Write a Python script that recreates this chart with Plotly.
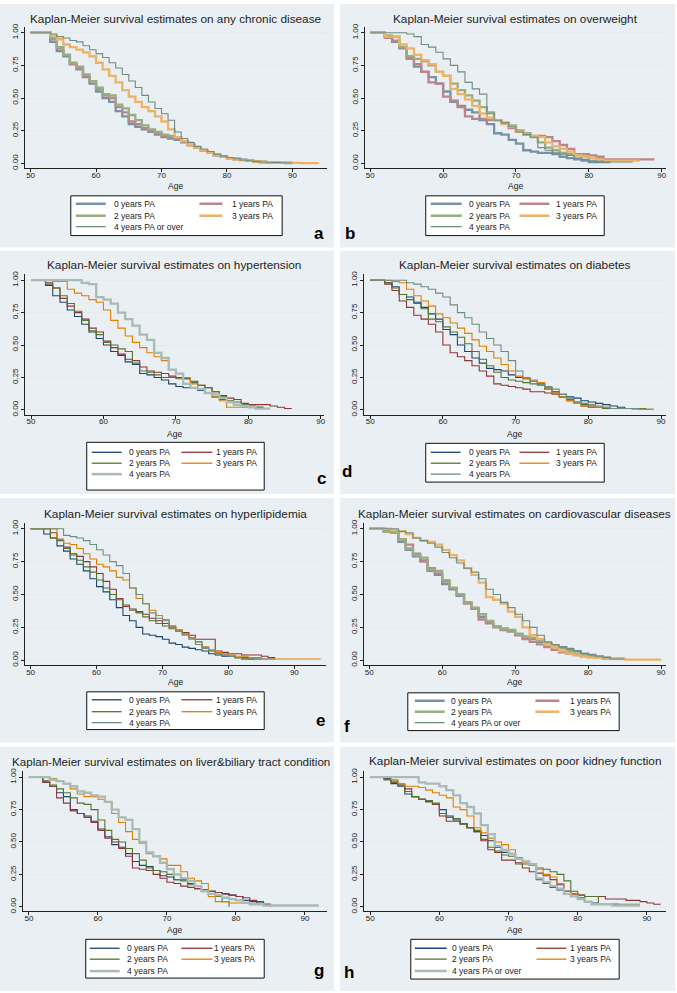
import plotly.graph_objects as go

# ---------------- data (survival at integer ages starting at 50) ----------------
START_AGE = 50

titles = [
    "Kaplan-Meier survival estimates on any chronic disease",
    "Kaplan-Meier survival estimates on overweight",
    "Kaplan-Meier survival estimates on hypertension",
    "Kaplan-Meier survival estimates on diabetes",
    "Kaplan-Meier survival estimates on hyperlipidemia",
    "Kaplan-Meier survival estimates on cardiovascular diseases",
    "Kaplan-Meier survival estimates on liver&biliary tract condition",
    "Kaplan-Meier survival estimates on poor kidney function",
]
letters = ["a", "b", "c", "d", "e", "f", "g", "h"]
group_labels = ["0 years PA", "1 years PA", "2 years PA", "3 years PA"]
top_group_labels = ["4 years PA or over", "4 years PA", "4 years PA", "4 years PA",
                    "4 years PA", "4 years PA or over", "4 years PA", "4 years PA or over"]
x_ticks = [50, 60, 70, 80, 90]
y_ticks = [0, 0.25, 0.5, 0.75, 1.0]
y_tick_text = ["0.00", "0.25", "0.50", "0.75", "1.00"]
x_title = "Age"

# (a) any chronic disease
a_pa0 = [1,1,1,0.93,0.86,0.82,0.76,0.72,0.66,0.61,0.55,0.50,0.47,0.40,0.36,0.30,0.28,0.26,0.24,0.22,0.20,0.19,0.18,0.16,0.14,0.12,0.10,0.08,0.065,0.05,0.04,0.035,0.028,0.02,0.015,0.01,0.008,0.006,0.004,0.002,0.002]
a_pa1 = [1,1,1,0.95,0.88,0.83,0.76,0.73,0.67,0.63,0.57,0.52,0.50,0.43,0.39,0.32,0.30,0.27,0.25,0.23,0.21,0.20,0.19,0.17,0.14,0.12,0.10,0.08,0.06,0.05,0.04,0.033,0.026,0.02,0.014,0.01,0.008,0.006,0.004,0.003,0.003]
a_pa2 = [1,1,1,0.96,0.89,0.83,0.77,0.74,0.68,0.63,0.58,0.53,0.52,0.45,0.42,0.37,0.33,0.29,0.26,0.24,0.22,0.21,0.20,0.17,0.14,0.12,0.10,0.08,0.06,0.05,0.04,0.03,0.025,0.02,0.015,0.01,0.008,0.006,0.004,0.003,0.003]
a_pa3 = [1,1,1,0.98,0.95,0.91,0.89,0.87,0.85,0.82,0.77,0.72,0.67,0.62,0.56,0.51,0.47,0.43,0.40,0.36,0.32,0.26,0.20,0.17,0.14,0.12,0.10,0.08,0.06,0.05,0.04,0.03,0.025,0.02,0.015,0.01,0.008,0.006,0.005,0.004,0.003,0.002,0.002,0.001,0.001]
a_pa4 = [1,1,1,0.99,0.97,0.96,0.94,0.93,0.90,0.87,0.84,0.81,0.77,0.73,0.68,0.63,0.58,0.52,0.47,0.42,0.38,0.33,0.24,0.19,0.16,0.13,0.11,0.09,0.07,0.055,0.045,0.035,0.025,0.02,0.015,0.01,0.008,0.006,0.004,0.002,0.002]

# (b) overweight
b_pa0 = [1,1,0.97,0.93,0.88,0.81,0.74,0.70,0.66,0.61,0.55,0.47,0.44,0.41,0.39,0.33,0.30,0.23,0.22,0.18,0.15,0.10,0.09,0.08,0.08,0.07,0.05,0.04,0.03,0.02,0.01,0.01,0.01,0.01]
b_pa1 = [1,1,0.96,0.94,0.89,0.80,0.76,0.70,0.62,0.61,0.51,0.48,0.43,0.36,0.34,0.34,0.33,0.33,0.31,0.27,0.25,0.22,0.21,0.21,0.20,0.17,0.14,0.11,0.07,0.07,0.06,0.05,0.03,0.03,0.03,0.03,0.03,0.03,0.03,0.03]
b_pa2 = [1,1,0.98,0.97,0.89,0.82,0.80,0.78,0.75,0.70,0.67,0.61,0.56,0.52,0.48,0.43,0.39,0.33,0.31,0.29,0.25,0.23,0.20,0.16,0.12,0.10,0.08,0.07,0.06,0.05,0.04,0.03,0.02,0.02]
b_pa3 = [1,1,0.97,0.97,0.91,0.88,0.83,0.79,0.76,0.70,0.67,0.57,0.53,0.49,0.44,0.38,0.35,0.33,0.30,0.28,0.24,0.22,0.21,0.20,0.16,0.13,0.11,0.09,0.06,0.05,0.04,0.03,0.02,0.02,0.02,0.02,0.02,0.02]
b_pa4 = [1,1,1,1,1,0.99,0.97,0.91,0.89,0.85,0.80,0.75,0.70,0.62,0.57,0.53,0.38,0.33,0.31,0.28,0.24,0.22,0.20,0.12,0.10,0.08,0.07,0.06,0.04,0.03,0.02,0.015,0.01,0.01,0.01,0.01,0.01]

# (c) hypertension
c_pa0 = [1,1,0.96,0.88,0.83,0.77,0.72,0.66,0.60,0.55,0.50,0.45,0.42,0.37,0.35,0.28,0.27,0.25,0.23,0.20,0.18,0.17,0.17,0.15,0.13,0.10,0.08,0.06,0.04,0.03,0.02,0.02,0.01,0.01]
c_pa1 = [1,1,0.98,0.94,0.86,0.80,0.75,0.70,0.63,0.60,0.53,0.48,0.43,0.39,0.38,0.33,0.30,0.29,0.28,0.26,0.25,0.24,0.22,0.19,0.17,0.14,0.11,0.09,0.08,0.05,0.04,0.04,0.04,0.03,0.02,0.01,0.01]
c_pa2 = [1,1,0.97,0.94,0.88,0.82,0.76,0.69,0.61,0.58,0.52,0.50,0.47,0.45,0.36,0.30,0.29,0.27,0.25,0.25,0.24,0.24,0.21,0.19,0.17,0.14,0.10,0.07,0.06,0.04,0.03,0.02,0.01,0.01]
c_pa3 = [1,1,1,0.99,0.99,0.93,0.90,0.88,0.85,0.83,0.77,0.69,0.63,0.57,0.52,0.48,0.44,0.41,0.38,0.31,0.28,0.25,0.20,0.16,0.13,0.10,0.07,0.02,0.02,0.02,0.02,0.01,0.01]
c_pa4 = [1,1,1,1,1,1,1,0.98,0.97,0.87,0.85,0.82,0.75,0.70,0.65,0.58,0.54,0.44,0.40,0.31,0.28,0.20,0.17,0.16,0.13,0.12,0.09,0.06,0.04,0.03,0.02,0.01,0.01,0.01]

# (d) diabetes
d_pa0 = [1,1,0.98,0.95,0.89,0.87,0.83,0.79,0.74,0.70,0.62,0.58,0.50,0.45,0.40,0.36,0.32,0.31,0.30,0.27,0.25,0.24,0.22,0.20,0.17,0.14,0.12,0.10,0.09,0.07,0.06,0.05,0.04,0.03,0.02,0.01,0.01]
d_pa1 = [1,1,0.97,0.92,0.84,0.79,0.73,0.70,0.66,0.60,0.50,0.44,0.41,0.38,0.34,0.30,0.26,0.20,0.19,0.18,0.17,0.16,0.14,0.14,0.13,0.12,0.10,0.07,0.05,0.03,0.02,0.02,0.01,0.01,0.01,0.01,0.01]
d_pa2 = [1,1,0.98,0.94,0.89,0.85,0.82,0.78,0.70,0.68,0.64,0.60,0.56,0.51,0.45,0.39,0.34,0.29,0.25,0.23,0.22,0.21,0.20,0.19,0.16,0.13,0.10,0.08,0.06,0.04,0.03,0.02,0.01,0.01,0.01,0.01,0.01,0.01,0.01]
d_pa3 = [1,1,1,0.99,0.98,0.93,0.88,0.84,0.80,0.74,0.71,0.67,0.63,0.59,0.54,0.49,0.45,0.40,0.35,0.30,0.26,0.24,0.23,0.21,0.17,0.13,0.10,0.07,0.05,0.03,0.03,0.02,0.02,0.01,0.01,0.01,0.005,0.005,0.005,0.005]
d_pa4 = [1,1,1,1,1,0.98,0.97,0.95,0.93,0.90,0.87,0.81,0.75,0.71,0.66,0.60,0.55,0.50,0.45,0.38,0.30,0.25,0.22,0.20,0.18,0.16,0.12,0.09,0.06,0.05,0.04,0.03,0.02,0.01,0.01,0.01,0.01,0.005,0.005,0.005]

# (e) hyperlipidemia
e_pa0 = [1,1,0.96,0.93,0.87,0.83,0.77,0.73,0.68,0.62,0.56,0.52,0.46,0.40,0.34,0.30,0.25,0.20,0.19,0.18,0.16,0.13,0.12,0.10,0.09,0.08,0.07,0.05,0.04,0.03,0.03,0.02,0.01,0.01,0.01]
e_pa1 = [1,1,1,0.97,0.92,0.86,0.81,0.79,0.75,0.71,0.66,0.60,0.54,0.47,0.41,0.39,0.37,0.35,0.32,0.30,0.28,0.26,0.23,0.21,0.19,0.16,0.16,0.16,0.07,0.06,0.05,0.05,0.04,0.04,0.04,0.03,0.02,0.01]
e_pa2 = [1,1,1,0.93,0.91,0.85,0.80,0.76,0.71,0.67,0.61,0.55,0.50,0.46,0.42,0.38,0.36,0.33,0.30,0.28,0.26,0.24,0.22,0.20,0.17,0.14,0.10,0.07,0.05,0.04,0.03,0.02,0.02,0.01,0.01,0.01]
e_pa3 = [1,1,1,1,0.92,0.89,0.88,0.85,0.81,0.77,0.73,0.71,0.68,0.63,0.61,0.55,0.47,0.43,0.38,0.34,0.31,0.26,0.23,0.20,0.17,0.12,0.10,0.08,0.06,0.05,0.04,0.03,0.03,0.02,0.02,0.01,0.01,0.01,0.01,0.01,0.01,0.01,0.01,0.01,0.01]
e_pa4 = [1,1,1,1,1,0.95,0.94,0.93,0.91,0.88,0.84,0.80,0.75,0.72,0.66,0.55,0.50,0.43,0.36,0.32,0.30,0.25,0.22,0.19,0.16,0.12,0.09,0.07,0.05,0.04,0.03,0.02,0.01,0.01,0.01,0.01,0.01,0.01]

# (f) cardiovascular diseases
f_pa0 = [1,1,0.98,0.97,0.90,0.84,0.79,0.76,0.68,0.65,0.58,0.54,0.49,0.44,0.39,0.33,0.29,0.26,0.24,0.22,0.20,0.18,0.16,0.14,0.12,0.11,0.10,0.08,0.07,0.05,0.04,0.03,0.02,0.01,0.01,0.01]
f_pa1 = [1,1,0.98,0.97,0.92,0.88,0.81,0.75,0.70,0.66,0.60,0.55,0.50,0.43,0.39,0.31,0.28,0.25,0.23,0.22,0.19,0.16,0.14,0.12,0.10,0.08,0.06,0.05,0.04,0.03,0.03,0.02,0.01,0.01,0.01,0.01]
f_pa2 = [1,1,0.98,0.97,0.92,0.85,0.80,0.78,0.69,0.68,0.61,0.55,0.50,0.44,0.40,0.35,0.30,0.26,0.24,0.23,0.20,0.18,0.17,0.15,0.13,0.11,0.09,0.07,0.05,0.04,0.03,0.02,0.02,0.01,0.01,0.01]
f_pa3 = [1,1,1,0.99,0.98,0.96,0.93,0.91,0.90,0.88,0.84,0.80,0.76,0.70,0.65,0.59,0.48,0.46,0.43,0.37,0.33,0.25,0.19,0.16,0.12,0.10,0.07,0.05,0.04,0.03,0.02,0.02,0.01,0.01,0.01,0.005,0.005,0.005,0.005,0.005,0.005]
f_pa4 = [1,1,1,1,0.98,0.97,0.93,0.91,0.89,0.86,0.82,0.78,0.74,0.70,0.67,0.62,0.54,0.50,0.44,0.40,0.35,0.30,0.25,0.19,0.14,0.12,0.10,0.09,0.07,0.05,0.04,0.03,0.02,0.01,0.01,0.01]

# (g) liver & biliary tract condition
g_pa0 = [1,1,0.97,0.93,0.88,0.85,0.75,0.72,0.70,0.66,0.60,0.54,0.48,0.46,0.41,0.35,0.32,0.31,0.28,0.24,0.23,0.21,0.21,0.18,0.14,0.13,0.12,0.11,0.10,0.09,0.08,0.05,0.04,0.03,0.02,0.01,0.01]
g_pa1 = [1,1,0.96,0.93,0.84,0.80,0.74,0.72,0.69,0.65,0.59,0.53,0.50,0.45,0.39,0.30,0.29,0.28,0.25,0.22,0.19,0.18,0.16,0.15,0.14,0.13,0.12,0.11,0.10,0.09,0.08,0.07,0.05,0.04,0.02,0.01,0.01,0.01]
g_pa2 = [1,1,0.97,0.94,0.91,0.88,0.84,0.80,0.79,0.75,0.67,0.59,0.52,0.50,0.45,0.41,0.36,0.30,0.28,0.27,0.25,0.21,0.20,0.17,0.16,0.13,0.12,0.08,0.04,0.0]
g_pa3 = [1,1,1,0.99,0.97,0.95,0.91,0.87,0.85,0.85,0.83,0.81,0.72,0.65,0.58,0.52,0.49,0.41,0.39,0.37,0.32,0.32,0.27,0.22,0.20,0.18,0.08,0.04,0.04,0.03,0.03,0.03,0.02,0.02,0.01,0.0]
g_pa4 = [1,1,1,0.98,0.97,0.95,0.93,0.89,0.88,0.86,0.85,0.81,0.75,0.69,0.67,0.60,0.50,0.42,0.39,0.34,0.29,0.25,0.22,0.20,0.16,0.12,0.10,0.09,0.07,0.06,0.05,0.03,0.02,0.02,0.01,0.01,0.01,0.01,0.01,0.01,0.01,0.01,0.01]

# (h) poor kidney function
h_pa0 = [1,1,0.99,0.95,0.93,0.87,0.85,0.83,0.81,0.79,0.75,0.70,0.67,0.64,0.61,0.58,0.55,0.51,0.46,0.42,0.41,0.38,0.35,0.32,0.21,0.18,0.15,0.13,0.12,0.10,0.07,0.04,0.03,0.02,0.02,0.02,0.02]
h_pa1 = [1,1,0.98,0.97,0.94,0.91,0.85,0.83,0.81,0.79,0.70,0.66,0.66,0.64,0.61,0.58,0.51,0.44,0.42,0.36,0.36,0.34,0.30,0.27,0.26,0.24,0.21,0.17,0.12,0.10,0.09,0.08,0.08,0.08,0.06,0.06,0.06,0.05,0.05,0.04,0.03,0.02,0.02]
h_pa2 = [1,1,0.98,0.96,0.94,0.89,0.85,0.83,0.82,0.80,0.72,0.69,0.68,0.64,0.61,0.59,0.52,0.46,0.43,0.40,0.39,0.33,0.33,0.33,0.30,0.29,0.27,0.25,0.20,0.12,0.09,0.08,0.08,0.02,0.02,0.02,0.02,0.02,0.02,0.02]
h_pa3 = [1,1,1,0.98,0.95,0.93,0.93,0.92,0.90,0.88,0.86,0.84,0.77,0.75,0.70,0.61,0.57,0.53,0.50,0.48,0.44,0.38,0.34,0.32,0.29,0.25,0.23,0.18,0.12,0.10,0.07,0.04,0.02]
h_pa4 = [1,1,1,1,1,1,1,0.96,0.95,0.95,0.93,0.90,0.86,0.80,0.77,0.72,0.63,0.56,0.47,0.44,0.41,0.37,0.35,0.33,0.22,0.19,0.16,0.14,0.10,0.08,0.06,0.04,0.02,0.02,0.02,0.01,0.01,0.01,0.01,0.01]

panel_series = [
    [a_pa0, a_pa1, a_pa2, a_pa3, a_pa4],
    [b_pa0, b_pa1, b_pa2, b_pa3, b_pa4],
    [c_pa0, c_pa1, c_pa2, c_pa3, c_pa4],
    [d_pa0, d_pa1, d_pa2, d_pa3, d_pa4],
    [e_pa0, e_pa1, e_pa2, e_pa3, e_pa4],
    [f_pa0, f_pa1, f_pa2, f_pa3, f_pa4],
    [g_pa0, g_pa1, g_pa2, g_pa3, g_pa4],
    [h_pa0, h_pa1, h_pa2, h_pa3, h_pa4],
]

# ---------------- styling / layout geometry (pixels) ----------------
W, H = 677, 993
FONT = "Liberation Sans, Arial, sans-serif"
BASE_COLORS = ["#1A476F", "#90353B", "#55752F", "#E37E00", "#6E8E84"]
PANEL_BG = "#E9EFF2"
GRID = "#E3EBEE"

def lighten(hexc, a=0.6):
    r, g, b = int(hexc[1:3], 16), int(hexc[3:5], 16), int(hexc[5:7], 16)
    r, g, b = [round(a * v + (1 - a) * 255) for v in (r, g, b)]
    return f"#{r:02X}{g:02X}{b:02X}"

thick_flags = [
    [1, 1, 1, 1, 0], [1, 1, 1, 1, 0], [0, 0, 0, 0, 1], [0, 0, 0, 0, 0],
    [0, 0, 0, 0, 0], [1, 1, 1, 1, 0], [0, 0, 0, 0, 1], [0, 0, 0, 0, 1],
]
panel_rects = [(0, 0, 335, 245), (341, 0, 677, 245), (0, 248, 335, 493), (341, 248, 677, 493),
               (0, 497, 335, 743), (341, 497, 677, 743), (0, 747, 335, 993), (341, 747, 677, 993)]
plot_boxes = [(25, 23, 328, 165), (366, 23, 668, 165), (25, 272, 325, 413), (365, 272, 668, 413),
              (25, 522, 327, 665), (365, 522, 668, 665), (23, 772, 328, 913), (365, 772, 668, 913)]
x_ranges = [(49.13, 95.29), (49.27, 90.59), (49.16, 90.45), (49.14, 90.69),
            (49.14, 94.8), (49.28, 90.68), (49.13, 93.2), (49.09, 92.77)]
Y_RANGE = (-0.036, 1.045)
title_y = [15, 15, 263, 263, 513, 513, 762, 762]
title_x = [None, None, None, None, None, None, 172, None]
title_size = [11.8, 11.8, 11.8, 11.8, 11.8, 11.8, 11.6, 11.8]
age_y = [183, 183, 433, 433, 682, 682, 932, 932]
letter_pos = [(320, 231), (351, 231), (322, 477), (348, 470), (321, 721), (348, 727), (320, 972), (350, 974)]
legend_boxes = [(71, 193, 283, 233), (427, 193, 606, 233), (87, 441, 265, 489), (427, 442, 606, 481),
                (87, 692, 265, 730), (409, 693, 621, 731), (86, 941, 265, 980), (412, 941, 621, 981)]
legend_left = [(76, 106, 112), (432, 463, 468), (92, 122, 127), (432, 462, 468),
               (92, 122, 127), (416, 446, 450), (90, 120, 125), (416, 448, 451)]
legend_right = [(200, 223, 276), (521, 551, 601), (182, 213, 260), (521, 551, 601),
                (182, 213, 260), (537, 561, 615), (182, 213, 258), (538, 568, 615)]
legend_rows = [(201, 213, 224), (201, 213, 224), (451, 462, 473), (451, 462, 473),
               (700, 712, 723), (701, 712, 723), (950, 961, 973), (950, 961, 973)]

def px(x):
    return x / W

def py(y):
    return 1 - y / H

fig = go.Figure()
shapes = []
annotations = []
layout_axes = {}

for i in range(8):
    sfx = "" if i == 0 else str(i + 1)
    xa, ya = "x" + sfx, "y" + sfx
    x0, y0, x1, y1 = plot_boxes[i]

    # panel background
    r = panel_rects[i]
    shapes.append(dict(type="rect", xref="paper", yref="paper", x0=px(r[0]), x1=px(r[2]),
                       y0=py(r[3]), y1=py(r[1]), fillcolor=PANEL_BG, line=dict(width=0), layer="below"))

    labels = group_labels + [top_group_labels[i]]
    widths, colors = [], []
    for k in range(5):
        if thick_flags[i][k]:
            widths.append(2.3)
            colors.append(lighten(BASE_COLORS[k], 0.6))
        else:
            widths.append(1.1)
            colors.append(BASE_COLORS[k])

    for k, vals in enumerate(panel_series[i]):
        ages = [START_AGE + j for j in range(len(vals))]
        fig.add_trace(go.Scatter(x=ages, y=vals, mode="lines", name=labels[k],
                                 line=dict(shape="hv", color=colors[k], width=widths[k]),
                                 xaxis=xa, yaxis=ya, showlegend=False, hoverinfo="skip"))

    layout_axes["xaxis" + sfx] = dict(
        domain=[px(x0), px(x1)], anchor=ya, range=list(x_ranges[i]),
        tickvals=x_ticks, ticks="outside", ticklen=3, tickwidth=1, tickcolor="#222",
        ticklabelstandoff=-4,
        showline=True, linecolor="#222", linewidth=1, showgrid=False, zeroline=False,
        tickfont=dict(size=8, color="#222", family=FONT), fixedrange=True)
    layout_axes["yaxis" + sfx] = dict(
        domain=[py(y1), py(y0)], anchor=xa, range=list(Y_RANGE),
        tickvals=y_ticks, ticktext=y_tick_text, tickangle=-90, ticks="outside",
        ticklen=3, tickwidth=1, tickcolor="#222", showline=True, linecolor="#222",
        linewidth=1, showgrid=True, gridcolor=GRID, gridwidth=1, zeroline=False,
        tickfont=dict(size=8, color="#222", family=FONT), fixedrange=True)

    # title
    tx_c = title_x[i] if title_x[i] is not None else (x0 + x1) / 2
    annotations.append(dict(text=titles[i], x=px(tx_c), y=py(title_y[i]), xref="paper",
                            yref="paper", showarrow=False, xanchor="center", yanchor="middle",
                            font=dict(size=title_size[i], color="#1E1E1E", family=FONT)))
    # axis title
    annotations.append(dict(text=x_title, x=px((x0 + x1) / 2), y=py(age_y[i]), xref="paper",
                            yref="paper", showarrow=False, xanchor="center", yanchor="middle",
                            font=dict(size=8.5, color="#222", family=FONT)))
    # panel letter
    lx, ly = letter_pos[i]
    annotations.append(dict(text="<b>" + letters[i] + "</b>", x=px(lx), y=py(ly), xref="paper",
                            yref="paper", showarrow=False, xanchor="center", yanchor="middle",
                            font=dict(size=17, color="#000", family=FONT)))

    # legend box
    bx0, by0, bx1, by1 = legend_boxes[i]
    shapes.append(dict(type="rect", xref="paper", yref="paper", x0=px(bx0), x1=px(bx1),
                       y0=py(by1), y1=py(by0), fillcolor="white", line=dict(color="#111", width=1)))
    rows = legend_rows[i]
    entries = [(0, "L", rows[0]), (1, "R", rows[0]), (2, "L", rows[1]), (3, "R", rows[1]), (4, "L", rows[2])]
    for k, side, ry in entries:
        if side == "L":
            lx0, lx1, tx = legend_left[i]
            anchor = "left"
        else:
            lx0, lx1, tx = legend_right[i]
            anchor = "right"
        shapes.append(dict(type="line", xref="paper", yref="paper", x0=px(lx0), x1=px(lx1),
                           y0=py(ry), y1=py(ry), line=dict(color=colors[k], width=widths[k] + 0.2)))
        annotations.append(dict(text=labels[k], x=px(tx), y=py(ry), xref="paper", yref="paper",
                                showarrow=False, xanchor=anchor, yanchor="middle",
                                font=dict(size=8.5, color="#222", family=FONT)))

fig.update_layout(
    width=W, height=H, autosize=False,
    margin=dict(l=0, r=0, t=0, b=0),
    paper_bgcolor="white", plot_bgcolor="white",
    showlegend=False, shapes=shapes, annotations=annotations,
    font=dict(family=FONT),
    **layout_axes,
)

fig.write_html("out.html", config={"displayModeBar": False, "staticPlot": True},
               post_script="document.body.style.margin='0px';document.body.style.overflow='hidden';")
